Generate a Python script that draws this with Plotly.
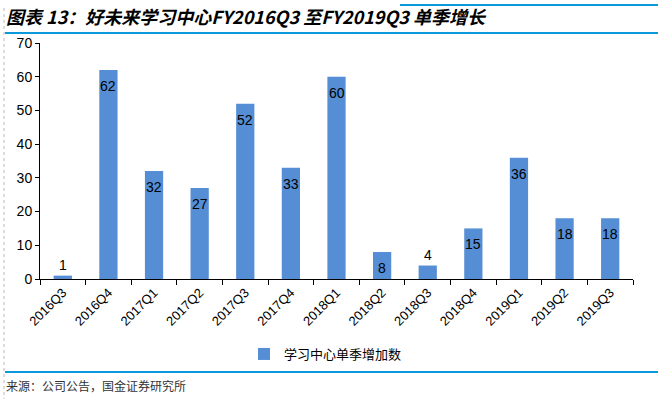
import plotly.graph_objects as go

categories = ["2016Q3", "2016Q4", "2017Q1", "2017Q2", "2017Q3", "2017Q4", "2018Q1",
              "2018Q2", "2018Q3", "2018Q4", "2019Q1", "2019Q2", "2019Q3"]
values = [1, 62, 32, 27, 52, 33, 60, 8, 4, 15, 36, 18, 18]
series_name = "学习中心单季增加数"
y_ticks = [0, 10, 20, 30, 40, 50, 60, 70]

W, H = 658, 399
L, R, T, B = 40, 25, 43, 120
PW, PH = W - L - R, H - T - B


def px(x):
    return (x - L) / PW


def py(y):
    return (H - B - y) / PH


fig = go.Figure()
fig.add_trace(go.Bar(
    x=categories, y=values, name=series_name,
    marker=dict(color="#558ED5", line=dict(width=0)),
    width=0.4,
))

# data labels: inside-end for tall bars, above for very short ones
for c, v in zip(categories, values):
    outside = v < 6
    fig.add_annotation(
        x=c, y=v, xref="x", yref="y", text=str(v), showarrow=False,
        yanchor="bottom" if outside else "top",
        yshift=1 if outside else -6,
        font=dict(color="black", size=14, family="Liberation Sans, Arial"),
    )

fig.update_layout(
    width=W, height=H,
    margin=dict(l=L, r=R, t=T, b=B),
    paper_bgcolor="white", plot_bgcolor="white",
    font=dict(family="Liberation Sans, Arial", size=12, color="black"),
    showlegend=True,
    legend=dict(orientation="h", x=px(244), xanchor="left", y=py(339), yanchor="top",
                font=dict(size=13, family="Noto Sans CJK SC"), itemwidth=30),
    xaxis=dict(
        type="category", tickangle=-45, ticks="outside", tickson="boundaries",
        ticklen=5, tickcolor="black", showline=True, linecolor="black",
        showgrid=False, tickfont=dict(size=13),
    ),
    yaxis=dict(
        range=[0, 70], tickvals=y_ticks, ticks="outside", ticklen=4,
        tickcolor="black", showline=True, linecolor="black", showgrid=False,
        zeroline=False, tickfont=dict(size=14),
    ),
)

fig.add_annotation(
    xref="paper", yref="paper", x=px(4), xanchor="left", y=py(16), yanchor="middle",
    text="<b><i>图表 13：好未来学习中心FY2016Q3 至FY2019Q3 单季增长</i></b>",
    showarrow=False, font=dict(size=18, family="Noto Sans CJK SC", color="black"),
)
fig.add_annotation(
    xref="paper", yref="paper", x=px(4), xanchor="left", y=py(385), yanchor="middle",
    text="来源：公司公告，国金证券研究所",
    showarrow=False, font=dict(size=12, family="Noto Sans CJK SC", color="#333333"),
)
# top blue rules
fig.add_shape(type="line", xref="paper", yref="paper", x0=px(400), x1=px(658),
              y0=py(5), y1=py(5), line=dict(color="#0A9ADB", width=2))
fig.add_shape(type="line", xref="paper", yref="paper", x0=px(5), x1=px(658),
              y0=py(33), y1=py(33), line=dict(color="#0A9ADB", width=2))
# bottom blue rule
fig.add_shape(type="line", xref="paper", yref="paper", x0=px(5), x1=px(658),
              y0=py(372), y1=py(372), line=dict(color="#0A9ADB", width=2))
# left dashed border
fig.add_shape(type="line", xref="paper", yref="paper", x0=px(4), x1=px(4),
              y0=py(8), y1=py(399), line=dict(color="#BBBBBB", width=1, dash="dot"))

fig.write_html("out.html", config={"displayModeBar": False},
               post_script="document.body.style.margin='0';")
